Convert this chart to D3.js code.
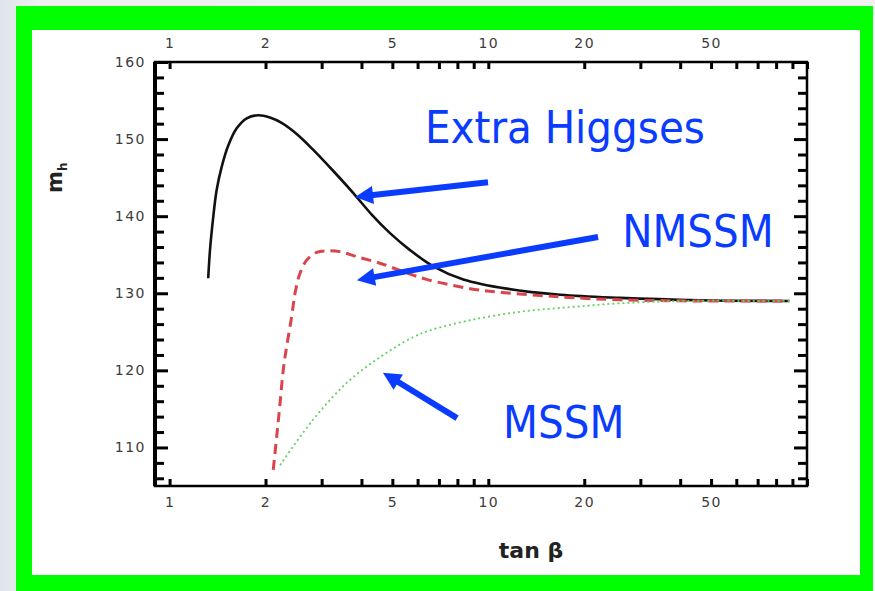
<!DOCTYPE html>
<html>
<head>
<meta charset="utf-8">
<script src="https://cdn.jsdelivr.net/npm/d3@7/dist/d3.min.js"></script>
<style>
  html, body { margin: 0; padding: 0; }
  body { width: 875px; height: 591px; overflow: hidden;
         background: linear-gradient(90deg, #dfe5ec 0px, #eef0f2 40px, #f1f1f1 875px); }
  svg { display: block; }
</style>
</head>
<body>
<svg id="chart" width="875" height="591"></svg>
<script>
// Lightest Higgs mass m_h versus tan(beta) in three models
const extraTan = [1.322, 1.339, 1.371, 1.405, 1.457, 1.529, 1.624, 1.746, 1.898, 2.065, 2.247, 2.505, 2.824, 3.264, 3.771, 4.307, 4.916, 5.68, 6.72, 8.35, 11.42, 16.8, 25.9, 46, 88];
const extraMh  = [131.95, 135.6, 139.9, 143.4, 146.4, 149.2, 151.4, 152.7, 153.1, 152.8, 152.1, 150.66, 148.6, 145.86, 143.0, 140.2, 137.8, 135.6, 133.5, 131.8, 130.6, 129.8, 129.4, 129.1, 129.0];

const nmssmTan = [2.115, 2.168, 2.221, 2.274, 2.330, 2.416, 2.475, 2.566, 2.693, 2.894, 3.111, 3.425, 3.865, 4.573, 5.412, 6.408, 8.77, 11.1, 14.2, 18.0, 25.9, 46, 88];
const nmssmMh  = [107.1, 111.4, 115.7, 120.1, 123.1, 127.0, 130.0, 132.6, 134.3, 135.3, 135.5, 135.4, 134.75, 133.9, 132.8, 131.8, 130.6, 130.1, 129.75, 129.45, 129.15, 129.0, 129.0];

const mssmTan = [2.221, 2.82, 3.60, 4.57, 5.80, 6.57, 8.76, 12.58, 18.05, 25.9, 39.9, 88];
const mssmMh  = [107.7, 113.6, 118.4, 121.7, 124.3, 125.2, 126.5, 127.6, 128.2, 128.7, 129.0, 129.0];

// Axis ticks
const xTickValues  = [1, 2, 3, 4, 5, 6, 7, 8, 9, 10, 20, 30, 40, 50, 60, 70, 80, 90, 100];
const xTickLabels  = [1, 2, 5, 10, 20, 50];
const yMajorTicks  = [110, 120, 130, 140, 150, 160];
const yMinorTicks  = [106, 108, 112, 114, 116, 118, 122, 124, 126, 128, 132, 134, 136, 138, 142, 144, 146, 148, 152, 154, 156, 158];

// Annotation labels and arrows (tail -> tip, in data units)
const labelNames = ["Extra Higgses", "NMSSM", "MSSM"];
const labelTan   = [6.33, 26.3, 11.13];
const labelMh    = [149.5, 136.0, 111.2];
const arrowTailTan = [9.98, 22.1, 7.98];
const arrowTailMh  = [144.4, 137.3, 113.8];
const arrowTipTan  = [3.82, 3.87, 4.67];
const arrowTipMh   = [142.5, 131.7, 119.7];

const svg = d3.select("#chart");

// Frame: green border with white panel
svg.append("rect").attr("x", 16).attr("y", 6).attr("width", 857).attr("height", 600).attr("fill", "#00ff00");
svg.append("rect").attr("x", 32).attr("y", 30).attr("width", 828).attr("height", 545).attr("fill", "#ffffff");

const plotL = 155, plotR = 807, plotT = 62, plotB = 486;
const x = d3.scaleLog().domain([0.9, 100]).range([plotL, plotR]);
const y = d3.scaleLinear().domain([105, 160]).range([plotB, plotT]);

const labelFont = "'DejaVu Sans', sans-serif";
const tickFmt = d => xTickLabels.includes(d) ? String(d) : "";

function styleAxis(g) {
  g.select(".domain").remove();
  g.selectAll(".tick line").attr("stroke", "#000").attr("stroke-width", 3);
  g.selectAll(".tick text").attr("fill", "#3c3c3c").attr("font-family", labelFont)
    .attr("font-size", 14).attr("letter-spacing", "1.5px");
}

// Bottom and top log axes, ticks pointing inward
svg.append("g").attr("transform", `translate(0,${plotB})`)
  .call(d3.axisBottom(x).tickValues(xTickValues).tickFormat(tickFmt).tickSizeInner(-7).tickSizeOuter(0).tickPadding(11))
  .call(styleAxis);
svg.append("g").attr("transform", `translate(0,${plotT})`)
  .call(d3.axisTop(x).tickValues(xTickValues).tickFormat(tickFmt).tickSizeInner(-7).tickSizeOuter(0).tickPadding(14))
  .call(styleAxis);

// Left axis: labelled majors and short minors
svg.append("g").attr("transform", `translate(${plotL},0)`)
  .call(d3.axisLeft(y).tickValues(yMajorTicks).tickSizeInner(-13).tickSizeOuter(0).tickPadding(9))
  .call(styleAxis);
svg.append("g").attr("transform", `translate(${plotL},0)`)
  .call(d3.axisLeft(y).tickValues(yMinorTicks).tickFormat("").tickSizeInner(-9).tickSizeOuter(0))
  .call(styleAxis);
// Right axis: ticks only
svg.append("g").attr("transform", `translate(${plotR},0)`)
  .call(d3.axisRight(y).tickValues(yMajorTicks).tickFormat("").tickSizeInner(-13).tickSizeOuter(0))
  .call(styleAxis);
svg.append("g").attr("transform", `translate(${plotR},0)`)
  .call(d3.axisRight(y).tickValues(yMinorTicks).tickFormat("").tickSizeInner(-9).tickSizeOuter(0))
  .call(styleAxis);

// Plot box
svg.append("rect").attr("x", plotL).attr("y", plotT).attr("width", plotR - plotL).attr("height", plotB - plotT)
  .attr("fill", "none").attr("stroke", "#000").attr("stroke-width", 2.5);
svg.append("line").attr("x1", plotL).attr("x2", plotL).attr("y1", plotT).attr("y2", plotB)
  .attr("stroke", "#000").attr("stroke-width", 4);

// Axis titles
svg.append("text").attr("x", 531).attr("y", 558).attr("text-anchor", "middle")
  .attr("font-family", labelFont).attr("font-weight", "bold").attr("font-size", 22).attr("fill", "#222")
  .text("tan β");
const yTitle = svg.append("text").attr("transform", "translate(62,193) rotate(-90)")
  .attr("font-family", labelFont).attr("font-weight", "bold").attr("font-size", 21).attr("fill", "#222");
yTitle.append("tspan").text("m");
yTitle.append("tspan").attr("font-size", 12).attr("dy", 5).text("h");

// Curves
const line = d3.line().x(d => x(d[0])).y(d => y(d[1])).curve(d3.curveCatmullRom.alpha(0.5));
const zip = (a, b) => a.map((v, i) => [v, b[i]]);

svg.append("path").datum(zip(extraTan, extraMh)).attr("d", line)
  .attr("fill", "none").attr("stroke", "#111").attr("stroke-width", 2.6);
svg.append("path").datum(zip(nmssmTan, nmssmMh)).attr("d", line)
  .attr("fill", "none").attr("stroke", "#d9454a").attr("stroke-width", 3)
  .attr("stroke-dasharray", "10,6");
svg.append("path").datum(zip(mssmTan, mssmMh)).attr("d", line)
  .attr("fill", "none").attr("stroke", "#5fd35f").attr("stroke-width", 1.8)
  .attr("stroke-dasharray", "2,3");

// Annotations
const blue = "#0a3cff";
labelNames.forEach((name, i) => {
  svg.append("text").attr("x", x(labelTan[i])).attr("y", y(labelMh[i]))
    .attr("font-family", "'DejaVu Sans Condensed', 'DejaVu Sans', sans-serif")
    .attr("font-stretch", "condensed").attr("font-size", 45).attr("fill", blue).text(name);

  const x0 = x(arrowTailTan[i]), y0 = y(arrowTailMh[i]);
  const x1 = x(arrowTipTan[i]),  y1 = y(arrowTipMh[i]);
  const ang = Math.atan2(y1 - y0, x1 - x0);
  const headLen = 18, headHalf = 9;
  const bx = x1 - headLen * Math.cos(ang), by = y1 - headLen * Math.sin(ang);
  svg.append("line").attr("x1", x0).attr("y1", y0).attr("x2", bx + 2 * Math.cos(ang)).attr("y2", by + 2 * Math.sin(ang))
    .attr("stroke", blue).attr("stroke-width", 6);
  const px = -Math.sin(ang), py = Math.cos(ang);
  svg.append("path")
    .attr("d", `M${x1},${y1}L${bx + headHalf * px},${by + headHalf * py}L${bx - headHalf * px},${by - headHalf * py}Z`)
    .attr("fill", blue);
});
</script>
</body>
</html>
